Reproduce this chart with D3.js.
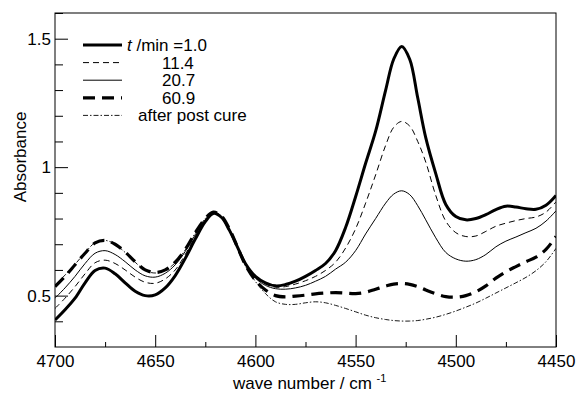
<!DOCTYPE html>
<html>
<head>
<meta charset="utf-8">
<script src="https://cdn.jsdelivr.net/npm/d3@7"></script>
<style>
  body { margin: 0; background: #fff; }
  text { font-family: "Liberation Sans", Arial, sans-serif; fill: #000; }
</style>
</head>
<body>
<div id="chart"></div>
<script>
'use strict';

const width = 577;
const height = 396;
const margin = { top: 13, right: 21, bottom: 49, left: 55 };

// wave numbers (cm-1), shared by every spectrum
const waveNumbers = [4700, 4695, 4690, 4685, 4680, 4675, 4670, 4665, 4660, 4655, 4650, 4645, 4640, 4635, 4630, 4625, 4621, 4617, 4613, 4609, 4605, 4600, 4595, 4590, 4585, 4580, 4575, 4570, 4565, 4560, 4555, 4550, 4545, 4540, 4535, 4531, 4527, 4523, 4519, 4515, 4510, 4505, 4500, 4495, 4490, 4485, 4480, 4475, 4470, 4465, 4460, 4455, 4450];

const absT1 = [.405, .445, .49, .55, .598, .607, .585, .55, .517, .500, .503, .530, .578, .645, .72, .788, .82, .805, .755, .69, .625, .575, .55, .538, .543, .556, .575, .598, .625, .675, .765, .885, 1.015, 1.14, 1.3, 1.42, 1.47, 1.42, 1.27, 1.115, .975, .855, .808, .795, .80, .815, .835, .848, .845, .838, .836, .852, .89];
const absT11 = [.45, .49, .535, .585, .628, .638, .625, .60, .572, .552, .548, .565, .60, .66, .73, .79, .82, .805, .755, .69, .623, .57, .545, .533, .535, .545, .558, .575, .598, .63, .685, .76, .86, .97, 1.085, 1.155, 1.178, 1.16, 1.10, 1.02, .89, .79, .745, .73, .732, .75, .77, .782, .792, .80, .806, .825, .865];
const absT20 = [.49, .53, .575, .625, .665, .675, .66, .632, .60, .577, .572, .587, .62, .672, .737, .795, .82, .805, .755, .69, .622, .568, .54, .527, .525, .53, .54, .556, .575, .603, .63, .675, .74, .80, .86, .895, .908, .893, .85, .795, .725, .668, .643, .634, .64, .66, .69, .712, .728, .745, .762, .79, .83];
const absT60 = [.535, .575, .62, .665, .705, .715, .70, .67, .632, .600, .59, .60, .63, .68, .745, .80, .825, .81, .76, .69, .62, .56, .522, .50, .495, .498, .502, .507, .51, .512, .51, .508, .513, .525, .537, .545, .547, .544, .535, .522, .507, .496, .494, .50, .515, .538, .568, .593, .613, .632, .65, .68, .73];
const absPost = [.54, .58, .622, .667, .706, .715, .70, .668, .63, .598, .588, .598, .628, .678, .744, .80, .825, .81, .76, .69, .615, .555, .508, .476, .466, .466, .472, .476, .472, .462, .45, .437, .424, .414, .407, .403, .401, .401, .403, .408, .416, .427, .44, .455, .471, .49, .51, .53, .55, .571, .597, .632, .684];

const legendValues = ['1.0', '11.4', '20.7', '60.9', 'after post cure'];
const xTicks = [4700, 4650, 4600, 4550, 4500, 4450];
const yTicks = [0.5, 1, 1.5];

const series = [
	{ values: absT1, width: 3, dash: null },
	{ values: absT11, width: 1, dash: '6,4' },
	{ values: absT20, width: 1, dash: null },
	{ values: absT60, width: 3.2, dash: '12,7' },
	{ values: absPost, width: 0.9, dash: '5,2,1.5,2' }
];

const svg = d3.select('#chart').append('svg')
	.attr('width', width)
	.attr('height', height);

const x = d3.scaleLinear()
	.domain([4700, 4450])
	.range([margin.left, width - margin.right]);

const y = d3.scaleLinear()
	.domain([0.3, 1.6])
	.range([height - margin.bottom, margin.top]);

svg.append('clipPath').attr('id', 'plot-clip')
	.append('rect')
	.attr('x', margin.left).attr('y', margin.top)
	.attr('width', width - margin.left - margin.right)
	.attr('height', height - margin.top - margin.bottom);

// spectra
const line = d3.line()
	.x((d, i) => x(waveNumbers[i]))
	.y(d => y(d))
	.curve(d3.curveCatmullRom.alpha(0.5));

svg.append('g')
	.attr('clip-path', 'url(#plot-clip)')
	.selectAll('path')
	.data(series)
	.enter().append('path')
	.attr('d', d => line(d.values))
	.attr('fill', 'none')
	.attr('stroke', '#000')
	.attr('stroke-width', d => d.width)
	.attr('stroke-dasharray', d => d.dash)
	.attr('stroke-linejoin', 'round');

// frame
svg.append('rect')
	.attr('x', margin.left).attr('y', margin.top)
	.attr('width', width - margin.left - margin.right)
	.attr('height', height - margin.top - margin.bottom)
	.attr('fill', 'none')
	.attr('stroke', '#000')
	.attr('stroke-width', 1);

// x axis, ticks pointing inwards
const xAxis = svg.append('g')
	.attr('transform', `translate(0,${height - margin.bottom})`)
	.call(d3.axisBottom(x).tickValues(xTicks).tickSize(-12).tickPadding(8).tickFormat(d3.format('d')));
xAxis.append('g')
	.call(d3.axisBottom(x).tickValues(d3.range(4675, 4450, -50)).tickSize(-5).tickFormat(''));
xAxis.selectAll('.domain').remove();
xAxis.selectAll('text').style('font-size', '17px').attr('fill', '#000');

// y axis
const yAxis = svg.append('g')
	.attr('transform', `translate(${margin.left},0)`)
	.call(d3.axisLeft(y).tickValues(yTicks).tickSize(-13).tickPadding(4).tickFormat(d => d));
yAxis.append('g')
	.call(d3.axisLeft(y).tickValues(d3.range(0.4, 1.6, 0.1).filter(v => Math.abs(v * 2 - Math.round(v * 2)) > 0.01)).tickSize(-8).tickFormat(''));
yAxis.selectAll('.domain').remove();
yAxis.selectAll('text').style('font-size', '17px').attr('fill', '#000');

// axis titles
svg.append('text')
	.attr('transform', 'translate(26,157) rotate(-90)')
	.attr('text-anchor', 'middle')
	.style('font-size', '17px')
	.text('Absorbance');

const xTitle = svg.append('text')
	.attr('x', 233)
	.attr('y', 389)
	.style('font-size', '17px');
xTitle.append('tspan').text('wave number / cm ');
xTitle.append('tspan').attr('dy', -7).style('font-size', '11px').text('-1');

// legend
const legend = svg.append('g');
series.forEach((s, i) => {
	const ly = 45 + i * 17.6;
	legend.append('line')
		.attr('x1', 83).attr('x2', 122)
		.attr('y1', ly).attr('y2', ly)
		.attr('stroke', '#000')
		.attr('stroke-width', s.width)
		.attr('stroke-dasharray', s.dash);
	const t = legend.append('text')
		.attr('y', ly + 6)
		.style('font-size', '17px');
	if (i === 0) {
		t.attr('x', 127);
		t.append('tspan').style('font-style', 'italic').text('t');
		t.append('tspan').text(' /min =' + legendValues[i]);
	} else if (i === 4) {
		t.attr('x', 138).text(legendValues[i]);
	} else {
		t.attr('x', 162).text(legendValues[i]);
	}
});
</script>
</body>
</html>
